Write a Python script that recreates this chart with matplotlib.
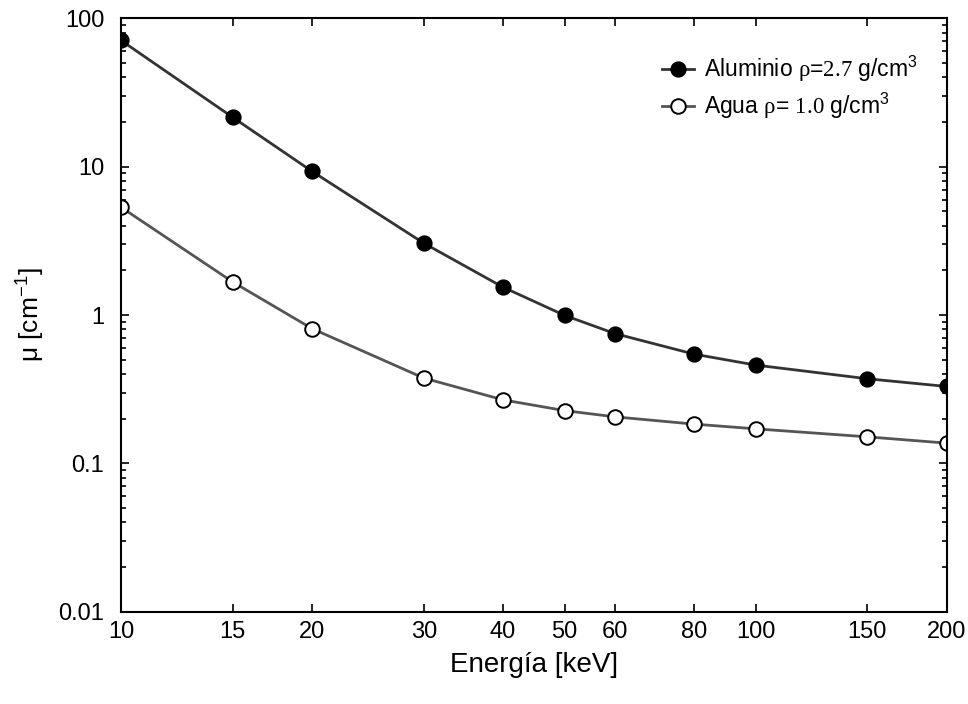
import matplotlib.pyplot as plt
from matplotlib.ticker import FixedLocator, FixedFormatter, LogLocator, NullFormatter

plt.rcParams['font.family'] = ['Liberation Sans', 'DejaVu Sans']
plt.rcParams['mathtext.fontset'] = 'custom'
plt.rcParams['mathtext.rm'] = 'Liberation Serif'
plt.rcParams['mathtext.sf'] = 'Liberation Sans'
plt.rcParams['mathtext.it'] = 'Liberation Sans:italic'

# energia en keV
energia = [10, 15, 20, 30, 40, 50, 60, 80, 100, 150, 200]
# coeficiente de atenuacion lineal [cm^-1]
aluminio = [71.0, 21.5, 9.3, 3.05, 1.54, 0.995, 0.75, 0.545, 0.46, 0.372, 0.330]
agua = [5.33, 1.67, 0.81, 0.376, 0.268, 0.227, 0.206, 0.184, 0.171, 0.151, 0.137]

xticks = [10, 15, 20, 30, 40, 50, 60, 80, 100, 150, 200]
yticks = [0.01, 0.1, 1, 10, 100]
ytick_labels = ['0.01', '0.1', '1', '10', '100']

fig = plt.figure(figsize=(9.68, 7.04), dpi=100)
ax = fig.add_axes([0.125, 0.131, 0.853, 0.843])

ax.plot(energia, aluminio, '-', color='#333333', lw=2, marker='o', ms=10.5,
        mfc='black', mec='black', mew=1.2,
        label=r'Aluminio $\mathrm{\rho}$=$\mathrm{2.7}$ g/cm$^{\mathsf{3}}$')
ax.plot(energia, agua, '-', color='#555555', lw=2, marker='o', ms=10.5,
        mfc='white', mec='black', mew=1.4,
        label=r'Agua $\mathrm{\rho}$= $\mathrm{1.0}$ g/cm$^{\mathsf{3}}$')

ax.set_xscale('log')
ax.set_yscale('log')
ax.set_xlim(10, 200)
ax.set_ylim(0.01, 100)

ax.xaxis.set_major_locator(FixedLocator(xticks))
ax.xaxis.set_major_formatter(FixedFormatter([str(t) for t in xticks]))
ax.xaxis.set_minor_locator(FixedLocator([]))
ax.yaxis.set_major_locator(FixedLocator(yticks))
ax.yaxis.set_major_formatter(FixedFormatter(ytick_labels))
ax.yaxis.set_minor_locator(LogLocator(base=10, subs=range(2, 10)))
ax.yaxis.set_minor_formatter(NullFormatter())

ax.tick_params(which='both', direction='in', top=True, right=True, labelsize=17)
ax.tick_params(axis='y', which='major', length=6, width=1.2, pad=12)
ax.tick_params(axis='x', which='major', length=6, width=1.2, pad=7)
ax.tick_params(which='minor', length=3.5, width=1.2)
for s in ax.spines.values():
    s.set_linewidth(1.5)

ax.set_xlabel('Energía [keV]', fontsize=20, labelpad=6)
ax.set_ylabel(r'μ [cm$^{\mathsf{-1}}$]', fontsize=19, labelpad=8)

ax.legend(loc='upper right', bbox_to_anchor=(0.99, 0.975), frameon=False,
          fontsize=16.5, handlelength=1.4, handletextpad=0.45, labelspacing=0.3)

fig.savefig('out.png', dpi=100)
